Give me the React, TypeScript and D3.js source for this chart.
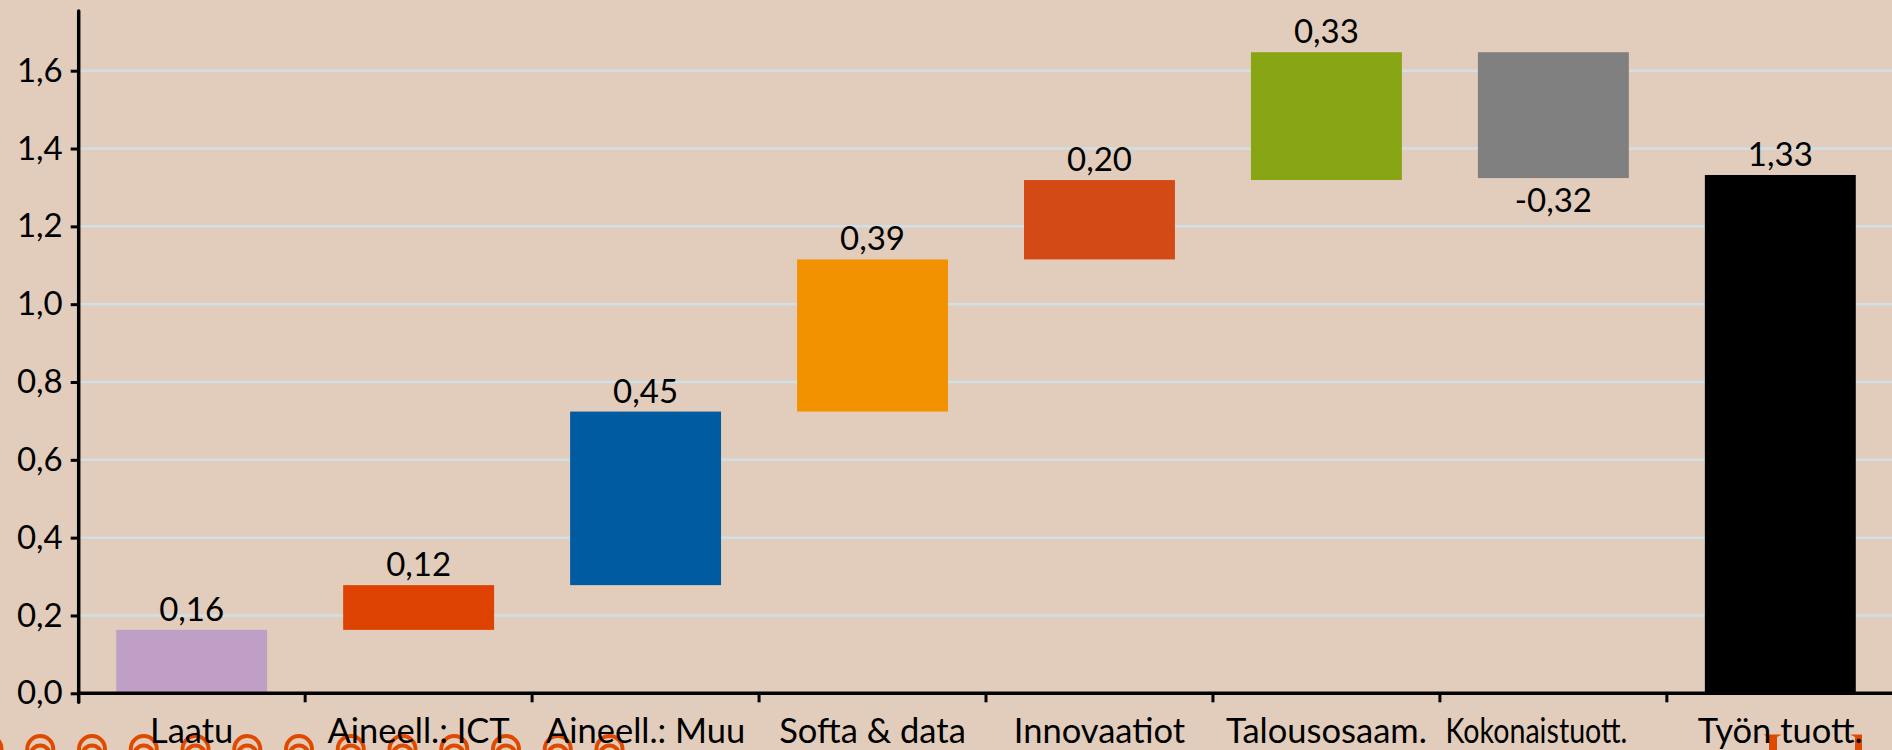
import React, { useRef, useEffect } from 'react'
import * as d3 from 'd3'

const categories = ['Laatu', 'Aineell.: ICT', 'Aineell.: Muu', 'Softa & data', 'Innovaatiot', 'Talousosaam.', 'Kokonaistuott.', 'Työn tuott.']
const values = [0.16, 0.12, 0.45, 0.39, 0.20, 0.33, -0.32, 1.33]
// ends of the floating bars
const barFrom = [0, 0.163, 0.278, 0.724, 1.115, 1.319, 1.6475, 0]
const barTo = [0.163, 0.278, 0.724, 1.115, 1.319, 1.6475, 1.324, 1.332]
const barColors = ['#c09fc7', '#dd4200', '#005ba0', '#f39200', '#d34a14', '#88a514', '#808080', '#000000']
const yTicks = [0, 0.2, 0.4, 0.6, 0.8, 1.0, 1.2, 1.4, 1.6]

const width = 1892
const height = 750
const fontFamily = 'Lato, "Open Sans", sans-serif'
const numberSize = 33
const categorySize = 34.5
const orange = '#e04a00'

export default function App() {
    const visEl = useRef<SVGSVGElement>(null)

    useEffect(() => {
        const svg = d3.select(visEl.current)
        svg.selectAll('*').remove()

        const fi = d3.formatLocale({ decimal: ',', thousands: ' ', grouping: [3], currency: ['', '€'], minus: '-' })
        const f1 = fi.format('.1f')
        const f2 = fi.format('.2f')

        const axisX = 78.7
        const x0 = 78.2
        const step = 226.95
        const xScale = d3.scaleBand<string>()
            .domain(categories)
            .range([x0, x0 + step * categories.length])
            .paddingInner(0.335)
            .paddingOuter(0.1675)
        const yScale = d3.scaleLinear().domain([0, 1.6]).range([693.3, 70.7])

        svg.append('rect').attr('width', width).attr('height', height).attr('fill', '#e2cdbc')

        // decoration cut off by the bottom edge
        const deco = svg.append('g').attr('fill', 'none').attr('stroke', orange).attr('stroke-width', 4)
        d3.range(13).forEach(i => {
            const cx = -11.5 + i * 51.75
            deco.append('circle').attr('cx', cx).attr('cy', 749).attr('r', 13)
            deco.append('circle').attr('cx', cx).attr('cy', 755).attr('r', 9.5)
        })
        const flags = svg.append('g').attr('fill', orange)
        flags.append('path').attr('d', 'M1763 734.5H1782L1777 737V750H1769V737Z')
        flags.append('path').attr('d', 'M1850 734.5H1862V750H1855V737Z')

        const g = svg.append('g')

        // gridlines
        g.selectAll('line.grid').data(yTicks.slice(1)).enter().append('line')
            .attr('class', 'grid')
            .attr('x1', axisX)
            .attr('x2', width)
            .attr('y1', d => yScale(d))
            .attr('y2', d => yScale(d))
            .attr('stroke', '#cfe0e6')
            .attr('stroke-width', 2.5)

        // bars
        g.selectAll('rect.bar').data(categories).enter().append('rect')
            .attr('class', 'bar')
            .attr('x', d => xScale(d) as number)
            .attr('width', xScale.bandwidth())
            .attr('y', (d, i) => yScale(Math.max(barFrom[i], barTo[i])))
            .attr('height', (d, i) => Math.abs(yScale(barFrom[i]) - yScale(barTo[i])))
            .attr('fill', (d, i) => barColors[i])

        // value labels
        g.selectAll('text.value').data(categories).enter().append('text')
            .attr('class', 'value')
            .attr('x', d => (xScale(d) as number) + xScale.bandwidth() / 2)
            .attr('y', (d, i) => values[i] < 0
                ? yScale(Math.min(barFrom[i], barTo[i])) + 34
                : yScale(barTo[i]) - 9)
            .attr('text-anchor', 'middle')
            .attr('font-family', fontFamily)
            .attr('font-size', numberSize)
            .attr('fill', '#000')
            .text((d, i) => f2(values[i]))

        // y axis
        const yAxis = d3.axisLeft(yScale)
            .tickValues(yTicks)
            .tickSize(8)
            .tickPadding(8)
            .tickFormat(d => f1(d as number))
        const yAxisG = g.append('g').attr('transform', `translate(${axisX},0)`).call(yAxis)
        yAxisG.select('.domain').remove()
        yAxisG.selectAll('.tick line').attr('stroke', '#000').attr('stroke-width', 3)
        yAxisG.selectAll('.tick text')
            .attr('font-family', fontFamily)
            .attr('font-size', numberSize)
            .attr('fill', '#000')
        g.append('line')
            .attr('x1', axisX).attr('x2', axisX)
            .attr('y1', 11).attr('y2', yScale(0) + 9)
            .attr('stroke', '#000').attr('stroke-width', 3.5).attr('stroke-linecap', 'round')

        // x axis: line, ticks between the bands, labels
        const y0 = yScale(0)
        g.append('line')
            .attr('x1', axisX).attr('x2', width)
            .attr('y1', y0).attr('y2', y0)
            .attr('stroke', '#000').attr('stroke-width', 3.5)
        g.selectAll('line.xtick').data(d3.range(1, categories.length)).enter().append('line')
            .attr('class', 'xtick')
            .attr('x1', i => x0 + step * i)
            .attr('x2', i => x0 + step * i)
            .attr('y1', y0)
            .attr('y2', y0 + 9)
            .attr('stroke', '#000').attr('stroke-width', 3)
        g.selectAll('text.cat').data(categories).enter().append('text')
            .attr('class', 'cat')
            .attr('x', d => (xScale(d) as number) + xScale.bandwidth() / 2 + (d === 'Kokonaistuott.' ? -17 : 0))
            .attr('y', 742.5)
            .attr('text-anchor', 'middle')
            .attr('font-family', fontFamily)
            .attr('font-size', categorySize)
            .attr('fill', '#000')
            // the reference squeezes this long label to fit
            .each(function (d) {
                if (d === 'Kokonaistuott.') {
                    d3.select(this).attr('textLength', 182).attr('lengthAdjust', 'spacingAndGlyphs')
                }
            })
            .text(d => d)
    }, [])

    return (
        <svg
            ref={visEl}
            width={width}
            height={height}
            style={{ position: 'fixed', left: 0, top: 0, display: 'block' }}
        />
    )
}
